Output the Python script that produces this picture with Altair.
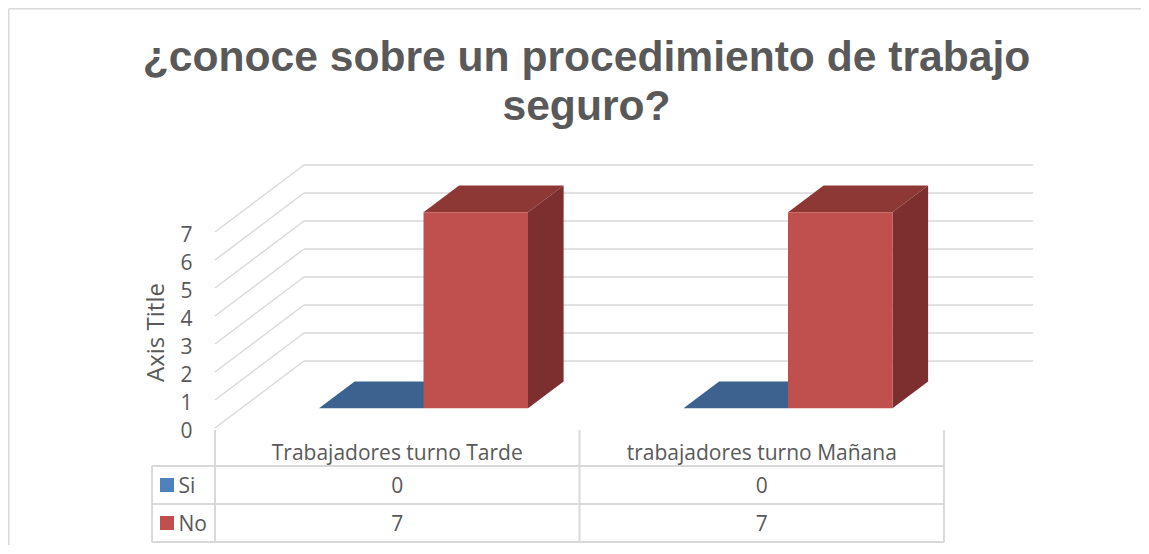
import altair as alt
import pandas as pd

# --- chart values ---
categories = ["Trabajadores turno Tarde", "trabajadores turno Mañana"]
series_names = ["Si", "No"]
si_values = [0, 0]
no_values = [7, 7]
axis_ticks = [0, 1, 2, 3, 4, 5, 6, 7]
title_lines = ["¿conoce sobre un procedimiento de trabajo", "seguro?"]

# --- layout / style ---
W, H = 1133, 537
OX, OY = 215.0, 428.0          # page px of category 0 / value 0 on the front edge
CAT, UNIT = 364.5, 28.0        # px per category and per value unit
DX, DY = 89.0, 67.0            # px of the full depth of the floor
BAR = 104.5 / CAT
D0, D1 = 0.295, 0.695
GREY, LINE = "#595959", "#D9D9D9"
FONT = "Open Sans"
TEXT_SIZE = 21
front_colors = ["#4F81BD", "#C0504D"]
top_colors = ["#3C638F", "#8E3836"]
side_colors = ["#35577E", "#7C2F2E"]


def px(c, d=0.0):
    return c + d * DX / CAT


def py(v, d=0.0):
    return v + d * DY / UNIT


def ry(page_y):
    return (OY - page_y) / UNIT


def cx(page_x):
    return (page_x - OX) / CAT


xs = alt.Scale(domain=[cx(8), cx(8 + W)], nice=False, zero=False)
ys = alt.Scale(domain=[ry(8 + H), ry(8)], nice=False, zero=False)
X = lambda f="x", **k: alt.X(f"{f}:Q", scale=xs, axis=None, **k)
Y = lambda f="y", **k: alt.Y(f"{f}:Q", scale=ys, axis=None, **k)
layers = []

# frame (top and left only), carries the value axis
frame = pd.DataFrame([
    {"x": cx(8.8), "x2": cx(8 + W), "y": ry(8.8), "y2": ry(8.8)},
    {"x": cx(8.8), "x2": cx(8.8), "y": ry(8.8), "y2": ry(8 + H)},
])
layers.append(alt.Chart(frame).mark_rule(color=LINE, strokeWidth=1.5).encode(
    x=X(), x2="x2", y=alt.Y("y:Q", scale=ys, axis=alt.Axis(
        values=axis_ticks, offset=-184, domain=False, ticks=False, grid=False, labelPadding=0,
        labelFont=FONT, labelFontSize=TEXT_SIZE, labelColor=GREY, labelOverlap=False, labelBound=False,
        labelOffset=3,
        title="Axis Title", titleFont=FONT, titleFontSize=24, titleFontWeight="normal", titleColor=GREY,
        titleAngle=270, titleX=-36, titleY=324, titleAlign="center", titleBaseline="middle",
    )), y2="y2",
))

# walls: back gridlines and diagonal side-wall lines
back = pd.DataFrame({"v": axis_ticks})
back["x"], back["x2"] = px(0, 1), px(len(categories), 1)
back["y"] = [py(v, 1) for v in axis_ticks]
layers.append(alt.Chart(back).mark_rule(color=LINE, strokeWidth=1.5).encode(x=X(), x2="x2", y=Y()))
diag = pd.DataFrame([{"v": v, "x": px(0, d), "y": py(v, d)} for v in axis_ticks for d in (0, 1)])
layers.append(alt.Chart(diag).mark_line(color=LINE, strokeWidth=1.5).encode(x=X(), y=Y(), detail="v:N"))

# 3-D bars
for s, values in enumerate([si_values, no_values]):
    top, side, front = [], [], []
    for i, v in enumerate(values):
        c0 = i + 0.5 + (s - 1) * BAR
        c1 = c0 + BAR
        for d in (D0, D1):
            top.append({"bar": i, "y": py(v, d), "x": px(c0, d), "x2": px(c1, d)})
            side.append({"bar": i, "x": px(c1, d), "y": py(0, d), "y2": py(v, d)})
        front.append({"bar": i, "x": px(c0, D0), "x2": px(c1, D0), "y": py(0, D0), "y2": py(v, D0)})
    layers.append(alt.Chart(pd.DataFrame(top)).mark_area(orient="horizontal", color=top_colors[s]).encode(
        y=Y(), x=X(), x2="x2", detail="bar:N"))
    layers.append(alt.Chart(pd.DataFrame(side)).mark_area(orient="vertical", color=side_colors[s]).encode(
        x=X(), y=Y(), y2="y2", detail="bar:N"))
    layers.append(alt.Chart(pd.DataFrame(front)).mark_rect(color=front_colors[s]).encode(
        x=X(), x2="x2", y=Y(), y2="y2"))

# data table
n = len(categories)
t_left = cx(152)
rows = [ry(466), ry(504), ry(542)]
t_lines = [{"x": t_left, "x2": cx(OX + n * CAT), "y": r, "y2": r} for r in rows]
t_lines.append({"x": t_left, "x2": t_left, "y": rows[0], "y2": rows[2]})
for k in range(n + 1):
    t_lines.append({"x": k, "x2": k, "y": ry(430), "y2": rows[2]})
layers.append(alt.Chart(pd.DataFrame(t_lines)).mark_rule(color=LINE, strokeWidth=2).encode(
    x=X(), x2="x2", y=Y(), y2="y2"))

text_rows = []
for i, c in enumerate(categories):
    text_rows.append({"x": i + 0.5, "y": ry(453.5), "t": c})
    text_rows.append({"x": i + 0.5, "y": ry(487), "t": str(si_values[i])})
    text_rows.append({"x": i + 0.5, "y": ry(525), "t": str(no_values[i])})
layers.append(alt.Chart(pd.DataFrame(text_rows)).mark_text(font=FONT, fontSize=TEXT_SIZE, color=GREY, align="center", baseline="middle").encode(
    x=X(), y=Y(), text="t:N"))

row_centers = [485, 523]
sw = pd.DataFrame([{"x": cx(160), "x2": cx(174), "y": ry(c - 7), "y2": ry(c + 7), "s": s}
                   for c, s in zip(row_centers, series_names)])
layers.append(alt.Chart(sw).mark_rect().encode(
    x=X(), x2="x2", y=Y(), y2="y2",
    color=alt.Color("s:N", scale=alt.Scale(domain=series_names, range=front_colors), legend=None)))
lab = pd.DataFrame([{"x": cx(178.5), "y": ry(c + 2), "t": s} for c, s in zip(row_centers, series_names)])
layers.append(alt.Chart(lab).mark_text(font=FONT, fontSize=TEXT_SIZE, color=GREY, align="left", baseline="middle").encode(
    x=X(), y=Y(), text="t:N"))

# chart title
ttl = pd.DataFrame([{"x": cx(586.5), "y": ry(b), "t": t} for b, t in zip([70.5, 120], title_lines)])
layers.append(alt.Chart(ttl).mark_text(
    font="Liberation Sans", fontSize=42.6, fontWeight="bold", color=GREY, align="center", baseline="alphabetic"
).encode(x=X(), y=Y(), text="t:N"))

chart = alt.layer(*layers).resolve_axis(y="independent").properties(
    width=W, height=H, padding=0,
    autosize=alt.AutoSizeParams(type="none"),
    background="white",
).configure_view(stroke=None)

chart.save("out.html", embed_options={"renderer": "svg", "actions": False})
